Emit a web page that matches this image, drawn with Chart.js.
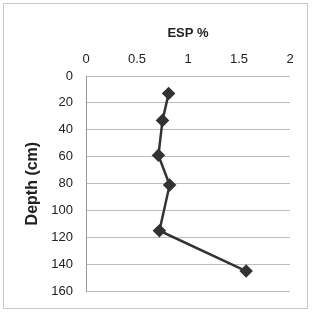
<!DOCTYPE html>
<html>
<head>
<meta charset="utf-8">
<script src="https://cdn.jsdelivr.net/npm/chart.js@4/dist/chart.umd.min.js"></script>
<style>
  body { margin: 0; background: #fff; }
  canvas { display: block; }
</style>
</head>
<body>
<canvas id="myChart" width="312" height="312"></canvas>
<script>
// values
const espValues = [0.81, 0.75, 0.71, 0.82, 0.72, 1.57];
const depthValues = [13, 33, 59, 81, 115, 145];
const xTicks = [0, 0.5, 1, 1.5, 2];
const yTicks = [0, 20, 40, 60, 80, 100, 120, 140, 160];

const points = espValues.map((v, i) => ({ x: v, y: depthValues[i] }));

// light frame round the whole chart
const framePlugin = {
  id: 'frame',
  beforeDraw(chart) {
    const c = chart.ctx;
    c.save();
    c.fillStyle = '#fff';
    c.fillRect(0, 0, chart.width, chart.height);
    c.strokeStyle = '#c8c8c8';
    c.lineWidth = 1;
    c.strokeRect(3.5, 3.5, 304, 305);
    c.restore();
  }
};

const ctx = document.getElementById('myChart').getContext('2d');
const myChart = new Chart(ctx, {
  type: 'scatter',
  data: {
    datasets: [{
      data: points,
      showLine: true,
      borderColor: '#333',
      backgroundColor: '#333',
      borderWidth: 2.5,
      pointStyle: 'rectRot',
      pointRadius: 5,
      pointHoverRadius: 5
    }]
  },
  options: {
    responsive: false,
    animation: false,
    layout: { padding: { left: 0, top: 0, right: 22, bottom: 15 } },
    plugins: { legend: { display: false }, tooltip: { enabled: false } },
    scales: {
      x: {
        position: 'top',
        min: 0, max: 2,
        afterBuildTicks(scale) { scale.ticks = xTicks.map(v => ({ value: v })); },
        afterFit(scale) { scale.height = 76; },
        grid: { display: false, drawTicks: false },
        border: { display: false },
        ticks: {
          color: '#222', font: { family: 'Liberation Sans', size: 13 }, padding: 9,
          callback: v => String(v)
        },
        title: {
          display: true, text: 'ESP %', color: '#222',
          font: { family: 'Liberation Sans', size: 13, weight: 'bold' },
          padding: { top: 26, bottom: 0 }
        }
      },
      y: {
        reverse: true,
        min: 0, max: 160,
        afterBuildTicks(scale) { scale.ticks = yTicks.map(v => ({ value: v })); },
        afterFit(scale) { scale.width = 86; },
        grid: { color: '#bdbdbd', drawTicks: false },
        border: { display: true, color: '#999' },
        ticks: { color: '#222', font: { family: 'Liberation Sans', size: 13 }, padding: 13 },
        title: {
          display: true, text: 'Depth (cm)', color: '#222',
          font: { family: 'Liberation Sans', size: 16, weight: 'bold' },
          padding: { top: 23, bottom: 0 }
        }
      }
    }
  },
  plugins: [framePlugin]
});
</script>
</body>
</html>
